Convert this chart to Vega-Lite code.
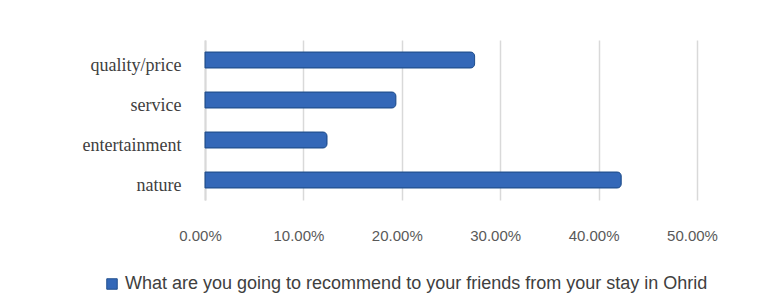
{
  "$schema": "https://vega.github.io/schema/vega-lite/v6.json",
  "autosize": "none",
  "width": 492,
  "height": 160,
  "padding": {"left": 205, "top": 40, "right": 76, "bottom": 106},
  "background": "white",
  "data": {
    "values": [
      {"category": "quality/price", "value": 0.274, "series": "What are you going to recommend to your friends from your stay in Ohrid"},
      {"category": "service", "value": 0.194, "series": "What are you going to recommend to your friends from your stay in Ohrid"},
      {"category": "entertainment", "value": 0.124, "series": "What are you going to recommend to your friends from your stay in Ohrid"},
      {"category": "nature", "value": 0.423, "series": "What are you going to recommend to your friends from your stay in Ohrid"}
    ]
  },
  "mark": {"type": "bar", "cornerRadiusEnd": 4, "stroke": "#22508f", "strokeWidth": 1},
  "encoding": {
    "y": {
      "field": "category", "type": "nominal",
      "sort": ["quality/price", "service", "entertainment", "nature"],
      "scale": {"paddingInner": 0.6, "paddingOuter": 0.3},
      "axis": {
        "title": null, "ticks": false, "domain": true, "domainColor": "#d9d9d9", "domainWidth": 2,
        "labelFont": "Liberation Serif", "labelFontSize": 18, "labelColor": "#404040",
        "labelPadding": 24, "labelOffset": 6
      }
    },
    "x": {
      "field": "value", "type": "quantitative",
      "scale": {"domain": [0, 0.5]},
      "axis": {
        "title": null, "format": ".2%", "values": [0, 0.1, 0.2, 0.3, 0.4, 0.5],
        "ticks": false, "domain": false, "grid": true, "gridColor": "#d9d9d9", "gridWidth": 1.5,
        "labelFont": "Liberation Sans", "labelFontSize": 15, "labelColor": "#595959",
        "labelPadding": 28, "labelOffset": -5, "labelFlush": false, "labelBound": false
      }
    },
    "color": {
      "field": "series", "type": "nominal",
      "scale": {"range": ["#3468b8"]},
      "legend": {
        "title": null, "orient": "none", "legendX": -102, "legendY": 235,
        "symbolType": "square", "symbolSize": 110,
        "symbolStrokeColor": "#22508f", "symbolStrokeWidth": 1, "labelOffset": 4,
        "labelFont": "Liberation Sans", "labelFontSize": 18, "labelColor": "#404040",
        "labelLimit": 700
      }
    }
  },
  "config": {"view": {"stroke": null}}
}
